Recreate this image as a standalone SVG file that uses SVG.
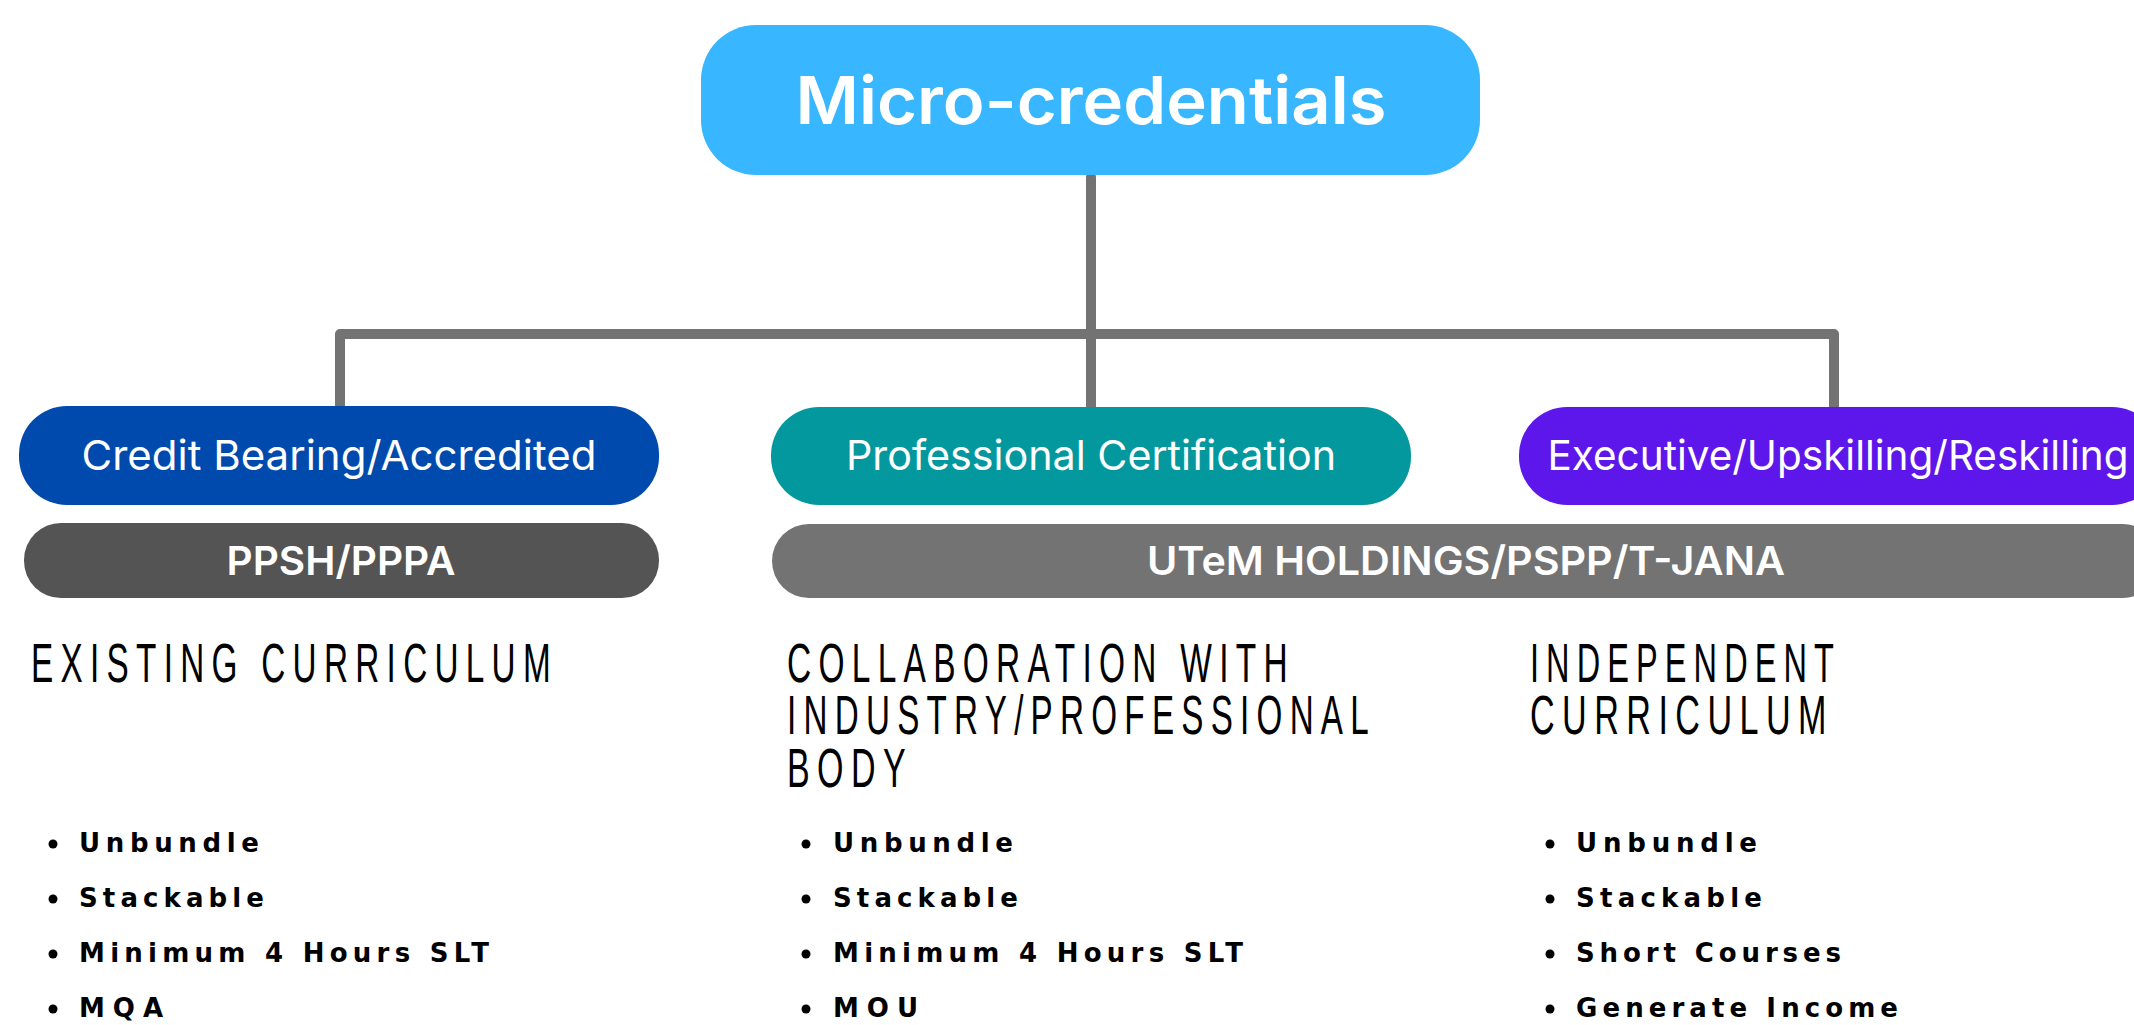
<svg xmlns="http://www.w3.org/2000/svg" width="2134" height="1025" viewBox="0 0 2134 1025">
<style>
.conn{fill:none;stroke:#737373;stroke-width:10;stroke-linecap:round;stroke-linejoin:round}
.lbl{font-family:Inter,"Open Sans","Liberation Sans",sans-serif;fill:#ffffff;text-anchor:middle}
.sub{font-family:Inter,"Open Sans","Liberation Sans",sans-serif;fill:#ffffff;text-anchor:middle;font-weight:600;font-size:40px}
.head{font-family:"Liberation Sans",Arial,sans-serif;fill:#000000;font-size:55px;font-weight:normal;letter-spacing:12px}
.item{font-family:"DejaVu Sans",Verdana,sans-serif;fill:#000000;font-size:26px;font-weight:bold}
.dot{fill:#000000}
</style>
<rect x="0" y="0" width="2134" height="1025" fill="#ffffff"/>
<g id="connectors">
<path class="conn" d="M340 405 V334 H1834 V409"/>
<path class="conn" d="M1091 177 V407"/>
</g>
<g id="node-root">
<rect x="701" y="25" width="779" height="150" rx="55" ry="55" fill="#38b6ff"/>
<text class="lbl" x="1091" y="124" font-size="66" font-weight="600" textLength="591" lengthAdjust="spacingAndGlyphs">Micro-credentials</text>
</g>
<g id="node-credit">
<rect x="19" y="406" width="640" height="99" rx="48" ry="48" fill="#004aad"/>
<text class="lbl" x="339" y="470" font-size="41" textLength="515" lengthAdjust="spacingAndGlyphs">Credit Bearing/Accredited</text>
</g>
<g id="node-professional">
<rect x="771" y="407" width="640" height="98" rx="48" ry="48" fill="#03989e"/>
<text class="lbl" x="1091" y="470" font-size="41" textLength="490" lengthAdjust="spacingAndGlyphs">Professional Certification</text>
</g>
<g id="node-executive">
<rect x="1519" y="407" width="641" height="98" rx="48" ry="48" fill="#5e17eb"/>
<text class="lbl" x="1838" y="470" font-size="41" textLength="581" lengthAdjust="spacingAndGlyphs">Executive/Upskilling/Reskilling</text>
</g>
<g id="node-ppsh">
<rect x="24" y="523" width="635" height="75" rx="37" ry="37" fill="#545454"/>
<text class="sub" x="341" y="575" textLength="229" lengthAdjust="spacingAndGlyphs">PPSH/PPPA</text>
</g>
<g id="node-utem">
<rect x="772" y="524" width="1388" height="74" rx="37" ry="37" fill="#737373"/>
<text class="sub" x="1466" y="575" textLength="638" lengthAdjust="spacingAndGlyphs">UTeM HOLDINGS/PSPP/T-JANA</text>
</g>
<g id="col-existing">
<text class="head" x="31" y="682" textLength="527" lengthAdjust="spacingAndGlyphs">EXISTING CURRICULUM</text>
<circle class="dot" cx="53" cy="844" r="4.5"/>
<text class="item" x="79" y="852" textLength="180" lengthAdjust="spacing">Unbundle</text>
<circle class="dot" cx="53" cy="899" r="4.5"/>
<text class="item" x="79" y="907" textLength="185" lengthAdjust="spacing">Stackable</text>
<circle class="dot" cx="53" cy="954" r="4.5"/>
<text class="item" x="79" y="962" textLength="410" lengthAdjust="spacing">Minimum 4 Hours SLT</text>
<circle class="dot" cx="53" cy="1009" r="4.5"/>
<text class="item" x="79" y="1017" textLength="84" lengthAdjust="spacing">MQA</text>
</g>
<g id="col-collaboration">
<text class="head"><tspan x="787" y="682" textLength="508" lengthAdjust="spacingAndGlyphs">COLLABORATION WITH</tspan><tspan x="787" y="734" textLength="589" lengthAdjust="spacingAndGlyphs">INDUSTRY/PROFESSIONAL</tspan><tspan x="787" y="787" textLength="126" lengthAdjust="spacingAndGlyphs">BODY</tspan></text>
<circle class="dot" cx="806" cy="844" r="4.5"/>
<text class="item" x="833" y="852" textLength="180" lengthAdjust="spacing">Unbundle</text>
<circle class="dot" cx="806" cy="899" r="4.5"/>
<text class="item" x="833" y="907" textLength="185" lengthAdjust="spacing">Stackable</text>
<circle class="dot" cx="806" cy="954" r="4.5"/>
<text class="item" x="833" y="962" textLength="410" lengthAdjust="spacing">Minimum 4 Hours SLT</text>
<circle class="dot" cx="806" cy="1009" r="4.5"/>
<text class="item" x="833" y="1017" textLength="85" lengthAdjust="spacing">MOU</text>
</g>
<g id="col-independent">
<text class="head"><tspan x="1530" y="682" textLength="311" lengthAdjust="spacingAndGlyphs">INDEPENDENT</tspan><tspan x="1530" y="734" textLength="304" lengthAdjust="spacingAndGlyphs">CURRICULUM</tspan></text>
<circle class="dot" cx="1550" cy="844" r="4.5"/>
<text class="item" x="1576" y="852" textLength="181" lengthAdjust="spacing">Unbundle</text>
<circle class="dot" cx="1550" cy="899" r="4.5"/>
<text class="item" x="1576" y="907" textLength="186" lengthAdjust="spacing">Stackable</text>
<circle class="dot" cx="1550" cy="954" r="4.5"/>
<text class="item" x="1576" y="962" textLength="265" lengthAdjust="spacing">Short Courses</text>
<circle class="dot" cx="1550" cy="1009" r="4.5"/>
<text class="item" x="1576" y="1017" textLength="322" lengthAdjust="spacing">Generate Income</text>
</g>
</svg>
